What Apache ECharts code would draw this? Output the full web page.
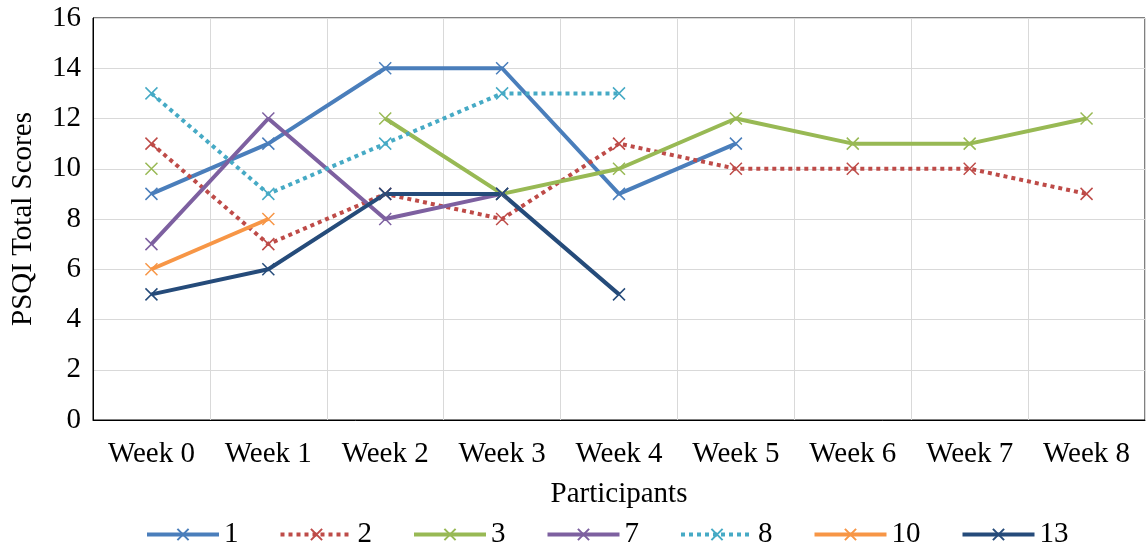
<!DOCTYPE html><html><head><meta charset="utf-8"><script src="https://cdn.jsdelivr.net/npm/echarts@6/dist/echarts.min.js"></script></head><body style="margin:0"><div id="c" style="width:1147px;height:550px"></div><script>
const categories=['Week 0','Week 1','Week 2','Week 3','Week 4','Week 5','Week 6','Week 7','Week 8'];
const s1=[9,11,14,14,9,11,null,null,null];
const s2=[11,7,9,8,11,10,10,10,9];
const s3=[10,null,12,9,10,12,11,11,12];
const s7=[7,12,8,9,null,null,null,null,null];
const s8=[13,9,11,13,13,null,null,null,null];
const s10=[6,8,null,null,null,null,null,null,null];
const s13=[5,6,9,9,5,null,null,null,null];
const defs=[['1',s1,'#4A7EBB','solid'],['2',s2,'#BE4B48','dotted'],['3',s3,'#98B954','solid'],['7',s7,'#7D60A0','solid'],['8',s8,'#46AAC5','dotted'],['10',s10,'#F79646','solid'],['13',s13,'#254B7A','solid']];
const f='Liberation Serif';
const fs=29;
const ch=echarts.init(document.getElementById('c'));
ch.setOption({animation:false,
grid:{left:93,right:2,top:18,bottom:130,show:true,borderColor:'#000',borderWidth:1},
legend:{top:515,left:140,itemWidth:72,itemGap:40,textStyle:{fontFamily:f,fontSize:fs,color:'#000'},lineStyle:{width:4},data:defs.map(d=>d[0])},
xAxis:{type:'category',data:categories,boundaryGap:true,name:'Participants',nameLocation:'middle',nameGap:60,nameTextStyle:{fontFamily:f,fontSize:fs,color:'#000'},axisLabel:{fontFamily:f,fontSize:fs,color:'#000',margin:20},axisTick:{show:false},axisLine:{lineStyle:{color:'#000'}},splitLine:{show:true,lineStyle:{color:'#d9d9d9'}}},
yAxis:{type:'value',min:0,max:16,interval:2,name:'PSQI Total Scores',nameLocation:'middle',nameGap:55,nameTextStyle:{fontFamily:f,fontSize:fs,color:'#000'},axisLabel:{fontFamily:f,fontSize:fs,color:'#000',margin:12},axisLine:{show:true,lineStyle:{color:'#000'}},splitLine:{lineStyle:{color:'#d9d9d9'}}},
series:defs.map(d=>({name:d[0],type:'line',data:d[1],connectNulls:false,symbol:'path://M0,0L10,10M10,0L0,10',symbolSize:12,color:d[2],lineStyle:{width:4,type:d[3],color:d[2]},itemStyle:{color:'none',borderColor:d[2],borderWidth:1.5}}))
});
</script></body></html>
